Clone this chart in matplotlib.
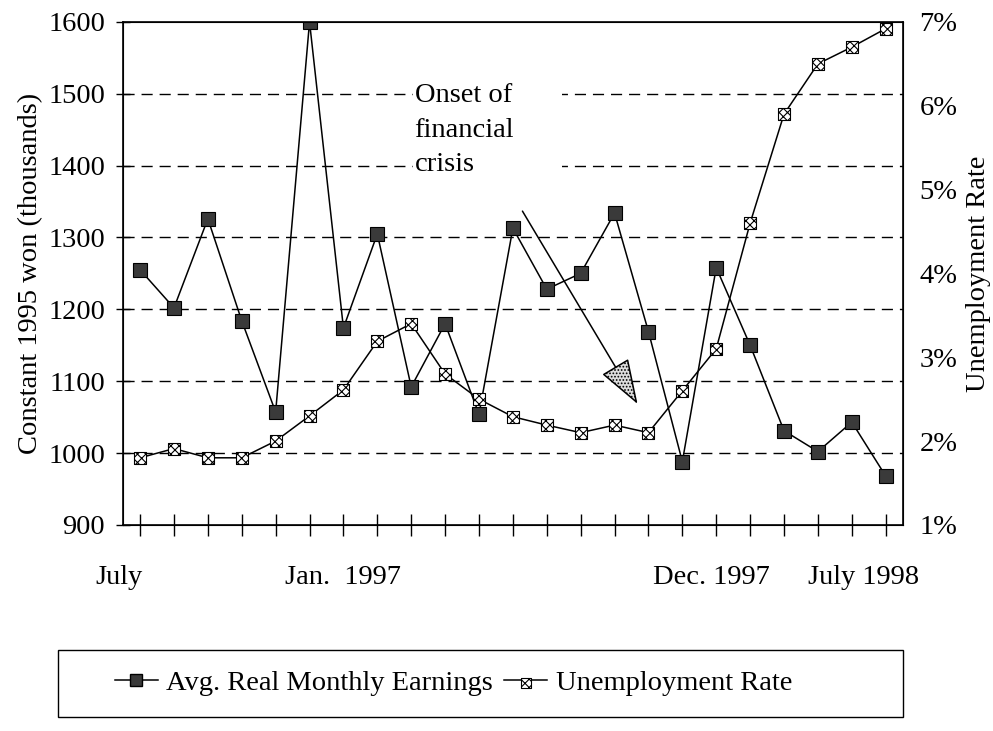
import numpy as np
import matplotlib
matplotlib.use("Agg")
import matplotlib.pyplot as plt
from matplotlib.lines import Line2D
from matplotlib.patches import Rectangle, FancyArrowPatch
from matplotlib.legend_handler import HandlerTuple

plt.rcParams['font.family'] = ['Liberation Serif', 'DejaVu Serif']
plt.rcParams['hatch.linewidth'] = 0.8

# Monthly data, July 1996 .. mid 1998
earnings = [1255, 1202, 1326, 1184, 1057, 1600, 1174, 1305, 1092, 1180, 1054, 1313,
            1228, 1250, 1334, 1169, 988, 1258, 1150, 1031, 1002, 1043, 968]
unemployment = [1.80, 1.91, 1.80, 1.80, 2.00, 2.30, 2.61, 3.19, 3.40, 2.80, 2.50, 2.29,
                2.19, 2.10, 2.19, 2.10, 2.60, 3.10, 4.60, 5.90, 6.50, 6.70, 6.92]
month_labels = ["July", "Jan.  1997", "Dec. 1997", "July 1998"]
label_pos = [-0.62, 6.0, 16.85, 21.35]

x = np.arange(len(earnings))
fs = 20.5

fig = plt.figure(figsize=(9.93, 7.31), dpi=100)
ax = fig.add_axes([0.124, 0.282, 0.785, 0.688])
ax2 = ax.twinx()

# gridlines
for g in [1000, 1100, 1200, 1300, 1400, 1500]:
    ax.axhline(g, color='black', lw=1.0, dashes=(8, 5), zorder=1)

ax.plot(x, earnings, color='black', lw=1.1, marker='s', ms=9.5,
        mfc='#3a3a3a', mec='black', mew=0.8, zorder=3)
ax2.plot(x, unemployment, color='black', lw=1.1, zorder=3)
ax2.scatter(x, unemployment, marker='s', s=75, facecolor='white',
            edgecolor='black', hatch='xxxx', lw=0.8, zorder=4)

ax.set_xlim(-0.5, 22.5)
ax.set_ylim(900, 1600)
ax.set_yticks(np.arange(900, 1601, 100))
ax2.set_ylim(1, 7)
ax2.set_yticks(range(1, 8))
ax2.set_yticklabels([f"{v}%" for v in range(1, 8)])

ax.set_xticks(x)
ax.set_xticklabels([])
ax.tick_params(axis='x', direction='inout', length=16, width=1)
ax.tick_params(axis='y', direction='inout', length=10, width=1, labelsize=fs, pad=8)
ax2.tick_params(axis='y', length=0, labelsize=fs, pad=12)

for lab, p in zip(month_labels, label_pos):
    ax.text(p, -0.104, lab, transform=ax.get_xaxis_transform(), ha='center',
            va='center', fontsize=fs)

ax.set_ylabel("Constant 1995 won (thousands)", fontsize=fs, labelpad=4)
ax2.set_ylabel("Unemployment Rate", fontsize=fs, labelpad=6)

for sp in ax.spines.values():
    sp.set_linewidth(1.2)

# white gap in the gridlines behind the annotation
ax.add_patch(Rectangle((8.05, 1385), 4.4, 130, facecolor='white', edgecolor='none', zorder=2))
ax.text(8.1, 1449, "Onset of\nfinancial\ncrisis", fontsize=fs, ha='left', va='center',
        linespacing=1.5, zorder=2.5)

arrow = FancyArrowPatch((11.24, 1340), (14.72, 1065),
                        arrowstyle='-|>,head_length=29,head_width=10',
                        mutation_scale=1, lw=1.1, facecolor='#dddddd',
                        edgecolor='black', hatch='.....', zorder=5)
ax.add_patch(arrow)

# legend box below the chart
fig.patches.append(Rectangle((0.058, 0.019), 0.851, 0.092, transform=fig.transFigure,
                             fill=False, edgecolor='black', lw=1.0))
h1 = Line2D([], [], color='black', lw=1.1, marker='s', ms=8, mfc='#3a3a3a', mec='black')
h2a = Line2D([], [], color='black', lw=1.1)
h2b = ax2.scatter([], [], marker='s', s=55, facecolor='white', edgecolor='black',
                  hatch='xxxx', lw=0.8)
fig.legend([h1, (h2a, h2b)], ["Avg. Real Monthly Earnings", "Unemployment Rate"],
           handler_map={tuple: HandlerTuple(ndivide=1)},
           loc='center left', bbox_to_anchor=(0.09, 0.065), ncol=2, frameon=False,
           fontsize=fs, handlelength=1.5, handletextpad=0.3, columnspacing=0.4)

fig.savefig("out.png", dpi=100)
